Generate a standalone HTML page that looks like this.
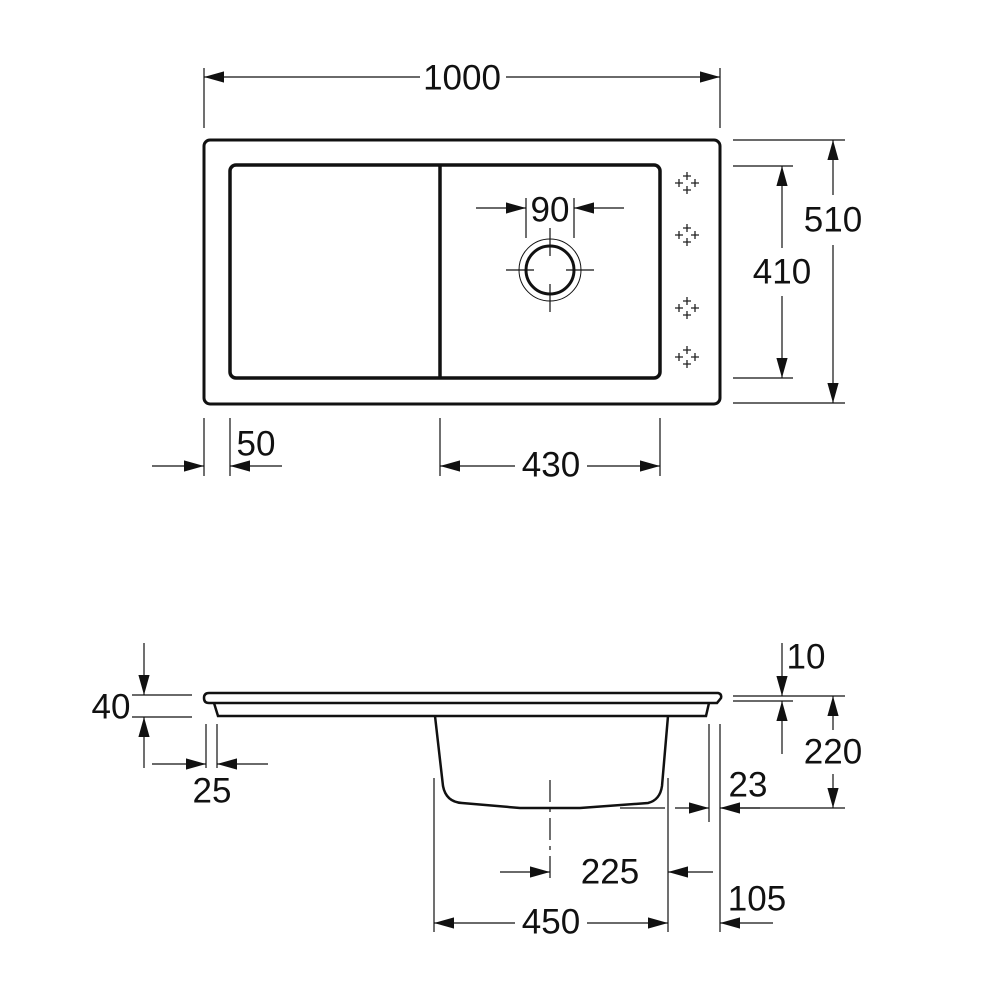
<!DOCTYPE html>
<html><head><meta charset="utf-8"><style>
html,body{margin:0;padding:0;background:#fff;}
svg{display:block}
text{font-family:"Liberation Sans",sans-serif;font-size:35px;fill:#111;text-anchor:middle;dominant-baseline:central}
</style></head><body>
<svg width="1000" height="1000" viewBox="0 0 1000 1000" xmlns="http://www.w3.org/2000/svg">
<defs>
<marker id="a" viewBox="0 0 10 10" refX="10" refY="5" markerWidth="20" markerHeight="20" markerUnits="userSpaceOnUse" orient="auto-start-reverse">
<path d="M0,2.2 L10,5 L0,7.8 z" fill="#111"/></marker>
<g id="tap" stroke="#222" stroke-width="1.3" fill="none">
<path d="M-4,-7 h8 M0,-11 v8"/>
<path d="M-12,0 h8 M-8,-4 v8"/>
<path d="M4,0 h8 M8,-4 v8"/>
<path d="M-4,7 h8 M0,3 v8"/>
</g>
</defs>
<g fill="none" stroke="#111">
<rect x="204" y="140" width="516" height="264" rx="6" stroke-width="3"/>
<rect x="230" y="165" width="430" height="213" rx="6" stroke-width="3.5"/>
<line x1="440" y1="165" x2="440" y2="378" stroke-width="3.5"/>
<circle cx="550" cy="270" r="24" stroke-width="3"/>
<circle cx="550" cy="270" r="31" stroke-width="1"/>
<path d="M506,270 H534 M566,270 H594 M550,228 V256 M550,284 V312" stroke-width="1.2"/>
<path d="M526,198 V238 M574,198 V238" stroke-width="1.2"/>
<line x1="476" y1="208" x2="526" y2="208" stroke-width="1.2" marker-end="url(#a)"/>
<line x1="624" y1="208" x2="574" y2="208" stroke-width="1.2" marker-end="url(#a)"/>
<path d="M204,68 V128 M720,68 V128" stroke-width="1.2"/>
<line x1="420" y1="77" x2="204" y2="77" stroke-width="1.2" marker-end="url(#a)"/>
<line x1="505" y1="77" x2="720" y2="77" stroke-width="1.2" marker-end="url(#a)"/>
<path d="M733,140 H845 M733,403 H845 M733,166 H793 M733,378 H793" stroke-width="1.2"/>
<line x1="833" y1="195" x2="833" y2="140" stroke-width="1.2" marker-end="url(#a)"/>
<line x1="833" y1="245" x2="833" y2="403" stroke-width="1.2" marker-end="url(#a)"/>
<line x1="782" y1="248" x2="782" y2="166" stroke-width="1.2" marker-end="url(#a)"/>
<line x1="782" y1="296" x2="782" y2="378" stroke-width="1.2" marker-end="url(#a)"/>
<path d="M204,418 V476 M230,418 V476 M440,418 V476 M660,418 V476" stroke-width="1.2"/>
<line x1="152" y1="466" x2="204" y2="466" stroke-width="1.2" marker-end="url(#a)"/>
<line x1="282" y1="466" x2="230" y2="466" stroke-width="1.2" marker-end="url(#a)"/>
<line x1="515" y1="466" x2="440" y2="466" stroke-width="1.2" marker-end="url(#a)"/>
<line x1="587" y1="466" x2="660" y2="466" stroke-width="1.2" marker-end="url(#a)"/>

<path d="M209,693 H718 Q722,694 721,698 L717,703 H209 Q204,703 204,698 Q204,693 209,693 Z" stroke-width="2.5"/>
<path d="M214,703 L218,716 H706 L709,703" stroke-width="2.5"/>
<path d="M435,716 L443,786 Q446,802 462,803 L520,808 H580 L648,803 Q660,800 662,786 L668,716" stroke-width="2.5"/>
<path d="M132,695 H192 M132,717 H192" stroke-width="1.2"/>
<line x1="144" y1="643" x2="144" y2="695" stroke-width="1.2" marker-end="url(#a)"/>
<line x1="144" y1="768" x2="144" y2="717" stroke-width="1.2" marker-end="url(#a)"/>
<path d="M206,724 V768 M217,724 V768" stroke-width="1.2"/>
<line x1="152" y1="764" x2="206" y2="764" stroke-width="1.2" marker-end="url(#a)"/>
<line x1="268" y1="764" x2="217" y2="764" stroke-width="1.2" marker-end="url(#a)"/>
<path d="M733,696 H845 M733,701 H793 M722,808 H845" stroke-width="1.2"/>
<line x1="782" y1="643" x2="782" y2="696" stroke-width="1.2" marker-end="url(#a)"/>
<line x1="782" y1="754" x2="782" y2="701" stroke-width="1.2" marker-end="url(#a)"/>
<line x1="833" y1="730" x2="833" y2="696" stroke-width="1.2" marker-end="url(#a)"/>
<line x1="833" y1="774" x2="833" y2="808" stroke-width="1.2" marker-end="url(#a)"/>
<path d="M709,724 V822 M720,724 V932" stroke-width="1.2"/>
<line x1="675" y1="808" x2="709" y2="808" stroke-width="1.2" marker-end="url(#a)"/>
<line x1="620" y1="808" x2="665" y2="808" stroke-width="1.2"/>
<line x1="760" y1="808" x2="720" y2="808" stroke-width="1.2" marker-end="url(#a)"/>
<path d="M550,780 V880" stroke-width="1.2" stroke-dasharray="22,6,4,6"/>
<path d="M668,778 V932 M434,778 V932" stroke-width="1.2"/>
<line x1="500" y1="872" x2="550" y2="872" stroke-width="1.2" marker-end="url(#a)"/>
<line x1="713" y1="872" x2="668" y2="872" stroke-width="1.2" marker-end="url(#a)"/>
<line x1="515" y1="923" x2="434" y2="923" stroke-width="1.2" marker-end="url(#a)"/>
<line x1="587" y1="923" x2="668" y2="923" stroke-width="1.2" marker-end="url(#a)"/>
<line x1="773" y1="923" x2="720" y2="923" stroke-width="1.2" marker-end="url(#a)"/>
</g>
<use href="#tap" x="687" y="183"/>
<use href="#tap" x="687" y="235"/>
<use href="#tap" x="687" y="308"/>
<use href="#tap" x="687" y="357"/>
<g>
<rect x="420" y="60" width="86" height="34" fill="#fff"/>
<text x="462" y="78">1000</text>
<text x="550" y="210">90</text>
<rect x="805" y="200" width="56" height="40" fill="#fff"/>
<text x="833" y="220">510</text>
<rect x="754" y="252" width="56" height="40" fill="#fff"/>
<text x="782" y="272">410</text>
<text x="256" y="444">50</text>
<text x="551" y="465">430</text>
<text x="111" y="707">40</text>
<text x="212" y="791">25</text>
<text x="806" y="657">10</text>
<rect x="805" y="732" width="56" height="40" fill="#fff"/>
<text x="833" y="752">220</text>
<text x="748" y="785">23</text>
<text x="610" y="872">225</text>
<text x="551" y="922">450</text>
<text x="757" y="899">105</text>
</g>
</svg>
</body></html>
